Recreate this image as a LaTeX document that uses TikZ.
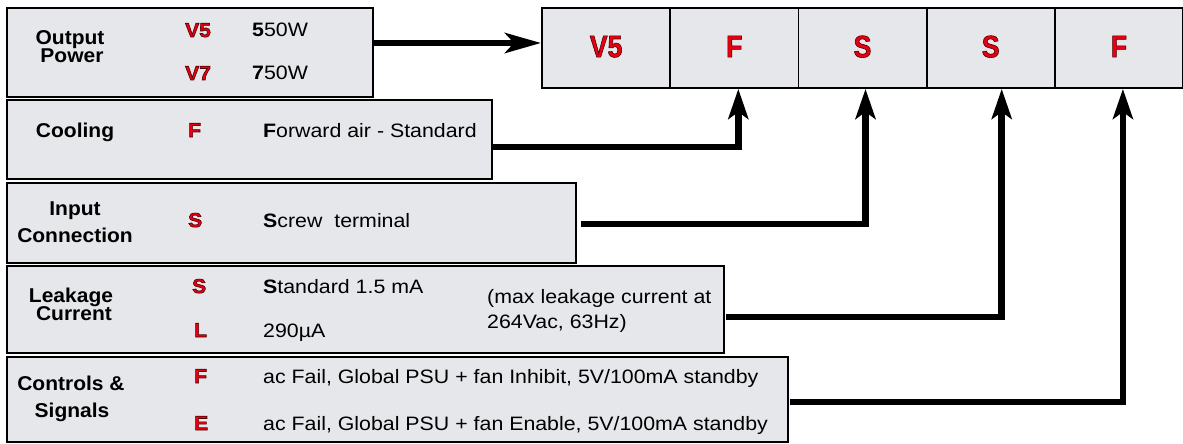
\documentclass[tikz,border=0pt]{standalone}
\usepackage{fontspec}
\setmainfont{Liberation Sans}[FakeStretch=1.1]
\newfontfamily\labfont{Liberation Sans}[FakeStretch=1.05]
\newfontfamily\bigfont{Liberation Sans}[FakeStretch=0.86]
\usetikzlibrary{arrows.meta}
\definecolor{boxfill}{RGB}{230,231,235}
\definecolor{letred}{RGB}{232,0,18}
\newcommand\outl[1]{{\color{letred}\special{pdf:code 2 Tr 0.6 w 0.3 0 0 RG}#1\special{pdf:code 0 Tr}}}
\newcommand\bodyf{\fontsize{19.4}{22}\selectfont}
\newcommand\labf{\labfont\bfseries\fontsize{20}{22}\selectfont}
\begin{document}
\begin{tikzpicture}[x=1pt,y=-1pt,
  box/.style={draw=black, line width=1.8pt, fill=boxfill, inner sep=0pt},
  cell/.style={box, minimum width=128.2pt, minimum height=80pt,
    font=\bigfont\bfseries\fontsize{31}{32}\selectfont},
  lab/.style={inner sep=0pt, anchor=base, font=\labf},
  code/.style={inner sep=0pt, anchor=base west, font=\labf},
  val/.style={inner sep=0pt, anchor=base west, font=\bodyf},
  conn/.style={line width=6.5pt, -{Stealth[length=30pt,width=20pt,inset=7pt]}},
  mainarr/.style={line width=6.5pt, -{Stealth[length=36pt,width=20pt,inset=9pt]}}]
\useasboundingbox (0,0) rectangle (1183,444);

% left boxes
\node[box, minimum width=366pt, minimum height=89pt] (out) at (190,52.5) {};
\node[box, minimum width=485pt, minimum height=79pt] (cool) at (249.5,139.5) {};
\node[box, minimum width=569pt, minimum height=80pt] (inp) at (291.5,223) {};
\node[box, minimum width=717pt, minimum height=87pt] (leak) at (365.5,309.5) {};
\node[box, minimum width=781pt, minimum height=85pt] (ctrl) at (397.5,399.5) {};

% top row
\node[cell] (c1) at (606.1,48) {\raisebox{3pt}{\outl{V5}}};
\node[cell] (c2) at (734.3,48) {\raisebox{3pt}{\outl{F}}};
\node[cell] (c3) at (862.5,48) {\raisebox{3pt}{\outl{S}}};
\node[cell] (c4) at (990.7,48) {\raisebox{3pt}{\outl{S}}};
\node[cell] (c5) at (1118.9,48) {\raisebox{3pt}{\outl{F}}};

% Output power
\node[lab] (l1a) at (70,45) {Output};
\node[lab] (l1b) at (72,63) {Power};
\node[code] (k1a) at (185,37) {\outl{V5}};
\node[code] (k1b) at (185,80) {\outl{V7}};
\node[val] (v1a) at (252,37) {\textbf{5}50W};
\node[val] (v1b) at (252,80) {\textbf{7}50W};

% Cooling
\node[lab] (l2) at (75,137) {Cooling};
\node[code] (k2) at (188,137) {\outl{F}};
\node[val] (v2) at (263,137) {\textbf{F}orward air - Standard};

% Input connection
\node[lab] (l3a) at (75,215) {Input};
\node[lab] (l3b) at (75,242) {Connection};
\node[code] (k3) at (188,227) {\outl{S}};
\node[val] (v3) at (263,227) {\textbf{S}crew\ \ terminal};

% Leakage current
\node[lab] (l4a) at (71,302) {Leakage};
\node[lab] (l4b) at (74,320) {Current};
\node[code] (k4a) at (192,293) {\outl{S}};
\node[code] (k4b) at (194,337) {\outl{L}};
\node[val] (v4a) at (263,293) {\textbf{S}tandard 1.5 mA};
\node[val] (v4b) at (263,337) {290µA};
\node[val] (n4a) at (487,303) {(max leakage current at};
\node[val] (n4b) at (487,328) {264Vac, 63Hz)};

% Controls & signals
\node[lab] (l5a) at (71,390) {Controls \&};
\node[lab] (l5b) at (72,417) {Signals};
\node[code] (k5a) at (194,383) {\outl{F}};
\node[code] (k5b) at (194,430) {\outl{E}};
\node[val] (v5a) at (263,383) {ac Fail, Global PSU + fan Inhibit, 5V/100mA standby};
\node[val] (v5b) at (263,430) {ac Fail, Global PSU + fan Enable, 5V/100mA standby};

% connectors
\draw[mainarr] ([yshift=9.5pt]out.east) -- ([yshift=5pt]c1.west);
\draw[conn] ([yshift=-7.5pt]cool.east) -| ([xshift=4pt]c2.south);
\draw[conn] ([xshift=4pt,yshift=-1pt]inp.east) -| ([xshift=3pt]c3.south);
\draw[conn] ([xshift=1pt,yshift=-7.5pt]leak.east) -| ([xshift=11pt]c4.south);
\draw[conn] ([xshift=1pt,yshift=-2.5pt]ctrl.east) -| ([xshift=4pt]c5.south);
\end{tikzpicture}
\end{document}
